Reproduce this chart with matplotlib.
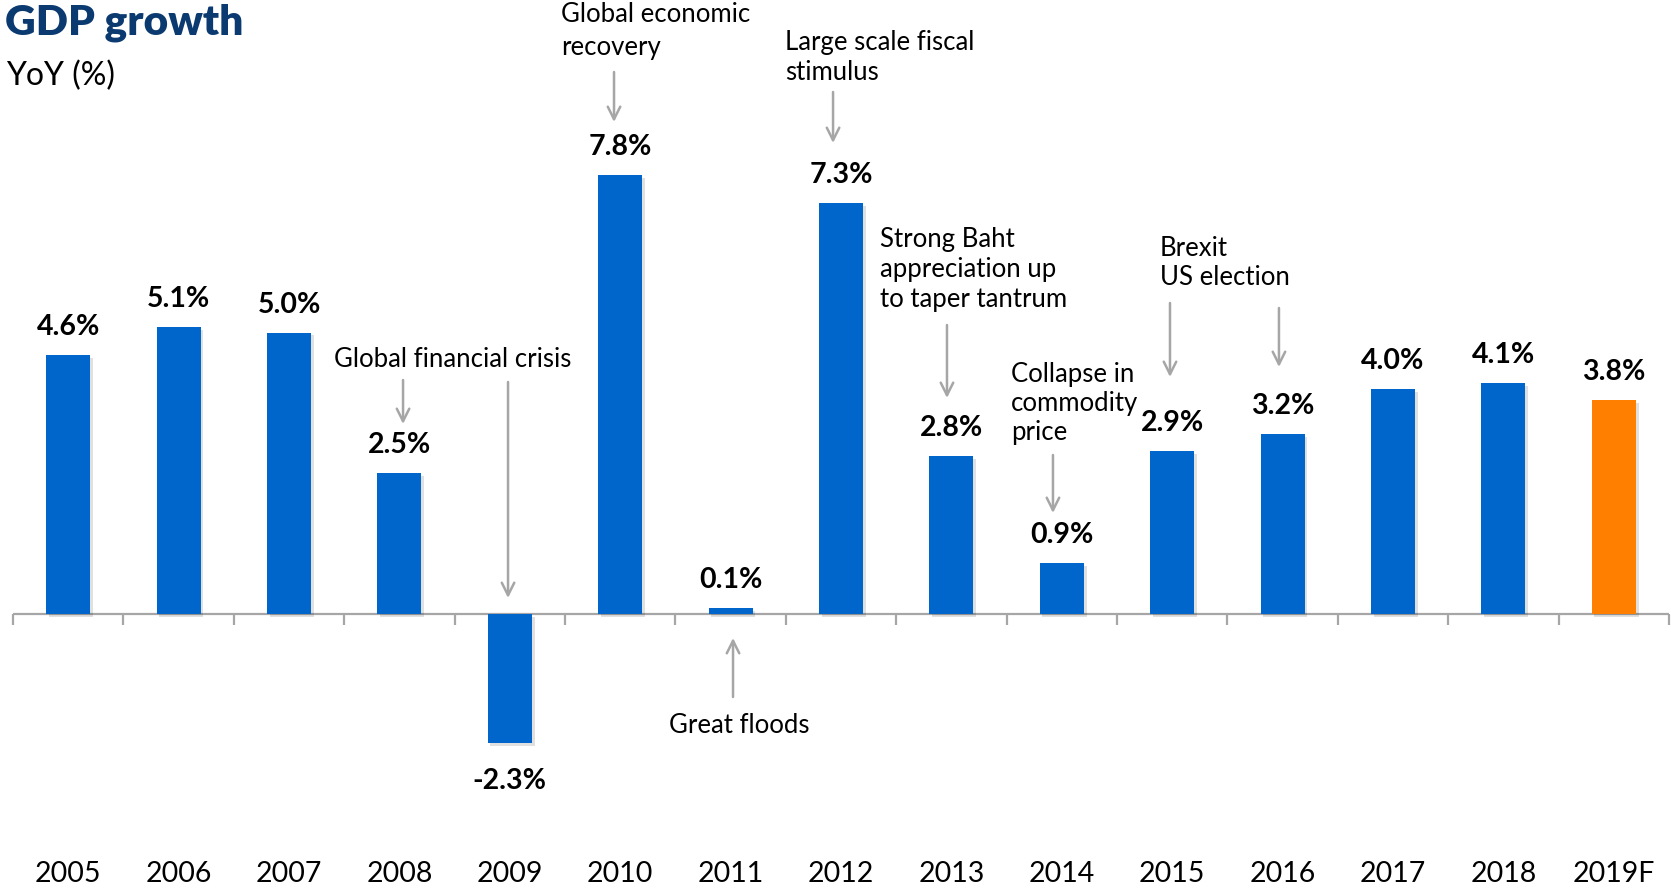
import matplotlib
matplotlib.use("Agg")
import matplotlib.pyplot as plt
import matplotlib.patheffects as pe

plt.rcParams['font.family'] = ['Lato', 'DejaVu Sans']

# --- data -------------------------------------------------------------
years = ["2005", "2006", "2007", "2008", "2009", "2010", "2011", "2012",
         "2013", "2014", "2015", "2016", "2017", "2018", "2019F"]
growth = [4.6, 5.1, 5.0, 2.5, -2.3, 7.8, 0.1, 7.3, 2.8, 0.9, 2.9, 3.2, 4.0, 4.1, 3.8]
forecast = [False] * 14 + [True]

# event notes: (lines, left x, first baseline y, line step)
notes = [
    (["Global financial crisis"], 2.408, 4.387, 0.0),
    (["Global economic", "recovery"], 4.464, 10.515, 0.586),
    (["Large scale fiscal", "stimulus"], 6.493, 10.018, 0.533),
    (["Strong Baht", "appreciation up", "to taper tantrum"], 7.353, 6.519, 0.533),
    (["Collapse in", "commodity", "price"], 8.540, 4.121, 0.515),
    (["Brexit", "US election"], 9.889, 6.359, 0.515),
    (["Great floods"], 5.442, -2.114, 0.0),
]
# arrows: (x, tail y, tip y)
arrows = [
    (3.033, 4.156, 3.375),
    (3.984, 4.121, 0.284),
    (4.944, 9.627, 8.739),
    (6.928, 9.272, 8.366),
    (7.960, 5.133, 3.837),
    (8.920, 2.824, 1.794),
    (9.980, 5.524, 4.210),
    (10.967, 5.435, 4.387),
    (6.022, -1.474, -0.426),
]

BLUE = "#0066CC"
ORANGE = "#FF7F00"
GREY = "#A6A6A6"
TITLE = "#0B3A70"

W, H = 1671, 889
fig = plt.figure(figsize=(W / 100, H / 100), dpi=100)
ax = fig.add_axes([0, 0, 1, 1])
ax.set_xlim(-0.5 - 13 / 110.4, (W - 13) / 110.4 - 0.5)
ax.set_ylim((614 - H) / 56.3, 614 / 56.3)
ax.axis("off")

x = list(range(len(years)))
colors = [ORANGE if f else BLUE for f in forecast]
bars = ax.bar(x, growth, width=0.40, color=colors, zorder=3)
for b in bars:
    b.set_path_effects([pe.SimplePatchShadow(offset=(2, -2), shadow_rgbFace="#000000", alpha=0.12),
                        pe.Normal()])

# baseline axis with category ticks
ax.hlines(0, -0.5, len(years) - 0.5, color=GREY, lw=1.6, zorder=2)
ax.vlines([i - 0.5 for i in range(len(years) + 1)], -0.195, 0, color=GREY, lw=1.6, zorder=2)

# value labels
for xi, v in zip(x, growth):
    if v >= 0:
        ax.text(xi, v + 0.355, f"{v:.1f}%", ha="center", va="baseline",
                fontsize=20.5, fontweight="bold", color="black")
    else:
        ax.text(xi, v - 0.80, f"{v:.1f}%", ha="center", va="baseline",
                fontsize=20.5, fontweight="bold", color="black")

# year labels
for xi, yr in zip(x, years):
    ax.text(xi, -4.76, yr, ha="center", va="baseline", fontsize=20.5, color="black")

# event annotations
for lines, lx, ly, step in notes:
    for k, line in enumerate(lines):
        ax.text(lx, ly - k * step, line, ha="left", va="baseline", fontsize=18.5, color="black")

for ax_x, y0, y1 in arrows:
    ax.annotate("", xy=(ax_x, y1), xytext=(ax_x, y0),
                arrowprops=dict(arrowstyle="->,head_length=0.9,head_width=0.45",
                                color=GREY, lw=1.8, shrinkA=0, shrinkB=0))

# titles
fig.text(5 / W, 1 - 35 / H, "GDP growth", fontsize=30.5, fontweight="heavy",
         color=TITLE, ha="left", va="baseline")
fig.text(6 / W, 1 - 85 / H, "YoY (%)", fontsize=23, color="black",
         ha="left", va="baseline")

fig.savefig("out.png", dpi=100)
